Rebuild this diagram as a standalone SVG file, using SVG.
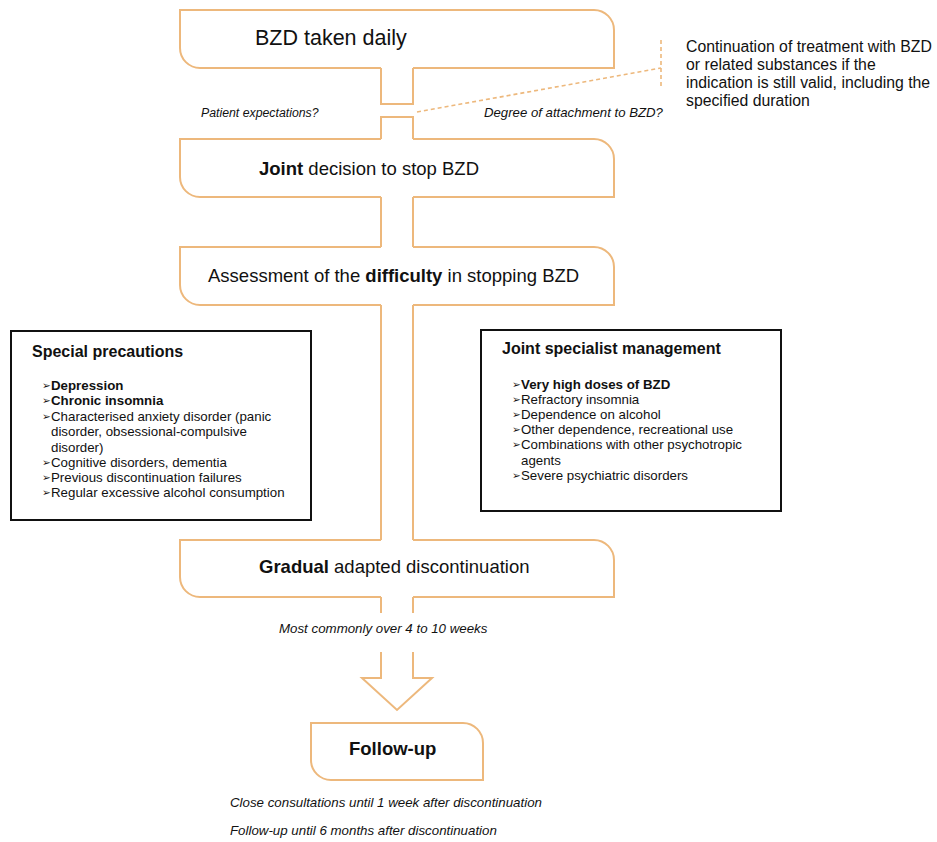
<svg xmlns="http://www.w3.org/2000/svg" width="937" height="842" viewBox="0 0 937 842">
<style>
.box{fill:#fff;stroke:#EDB87C;stroke-width:2;stroke-linejoin:miter}
.stem{fill:none;stroke:#EDB87C;stroke-width:2}
.dash{fill:none;stroke:#EDB87C;stroke-width:1.6;stroke-dasharray:4 3}
.t{font-family:"Liberation Sans",Arial,sans-serif;fill:#111}
.main{font-size:18.5px}
.it{font-size:13.3px;font-style:italic}
.lst{font-size:13.3px}
.ttl{font-size:16px;font-weight:bold}
.bul{font-family:"DejaVu Sans",sans-serif;font-size:10.5px;fill:#111}
.panel{fill:#fff;stroke:#111;stroke-width:2}
.b{font-weight:bold}
</style>
<rect width="937" height="842" fill="#fff"/>

<g id="connectors">
  <path class="stem" d="M381,68 V104 H413 V68"/>
  <path class="stem" d="M381,139 V117 H413 V139"/>
  <path class="stem" d="M381,197 V247 M413,197 V247"/>
  <path class="stem" d="M381,305 V540 M413,305 V540"/>
  <path class="stem" d="M381,597 V613 M413,597 V613"/>
  <path class="stem" d="M381,652 V678 H362 L397,710 L432,678 H413 V652"/>
  <path class="dash" d="M417,112 L661,68"/>
  <path class="dash" d="M661,40 V88"/>
</g>

<g id="node-bzd-daily">
  <path class="box" d="M413,68 H614 V30 A20,20 0 0 0 594,10 H180 V48 A20,20 0 0 0 200,68 H381"/>
  <text class="t" x="255" y="45" style="font-size:21.5px">BZD taken daily</text>
</g>

<g id="label-patient">
  <text class="t it" x="201" y="117" style="font-size:12.3px">Patient expectations?</text>
</g>
<g id="label-degree">
  <text class="t it" x="484" y="117" style="font-size:13.2px">Degree of attachment to BZD?</text>
</g>

<g id="node-continuation">
  <text class="t" style="font-size:15.8px">
    <tspan x="686" y="52">Continuation of treatment with BZD</tspan>
    <tspan x="686" y="70">or related substances if the</tspan>
    <tspan x="686" y="88">indication is still valid, including the</tspan>
    <tspan x="686" y="106">specified duration</tspan>
  </text>
</g>

<g id="node-joint-decision">
  <path class="box" d="M413,139 H594 A20,20 0 0 1 614,159 V197 H413 M381,197 H200 A20,20 0 0 1 180,177 V139 H381"/>
  <text class="t main" x="259" y="175"><tspan class="b">Joint</tspan> decision to stop BZD</text>
</g>

<g id="node-assessment">
  <path class="box" d="M413,247 H594 A20,20 0 0 1 614,267 V305 H413 M381,305 H200 A20,20 0 0 1 180,285 V247 H381"/>
  <text class="t main" x="208" y="282">Assessment of the <tspan class="b">difficulty</tspan> in stopping BZD</text>
</g>

<g id="node-special-precautions">
  <rect class="panel" x="11" y="331" width="300" height="189"/>
  <text class="t ttl" x="32" y="357">Special precautions</text>
  <g class="bul">
    <text x="42" y="389">➢</text>
    <text x="42" y="404">➢</text>
    <text x="42" y="420">➢</text>
    <text x="42" y="466">➢</text>
    <text x="42" y="481">➢</text>
    <text x="42" y="496">➢</text>
  </g>
  <text class="t lst">
    <tspan x="51" y="390" class="b">Depression</tspan>
    <tspan x="51" y="405" class="b">Chronic insomnia</tspan>
    <tspan x="51" y="421">Characterised anxiety disorder (panic</tspan>
    <tspan x="51" y="436">disorder, obsessional-compulsive</tspan>
    <tspan x="51" y="452">disorder)</tspan>
    <tspan x="51" y="467">Cognitive disorders, dementia</tspan>
    <tspan x="51" y="482">Previous discontinuation failures</tspan>
    <tspan x="51" y="497">Regular excessive alcohol consumption</tspan>
  </text>
</g>

<g id="node-joint-specialist">
  <rect class="panel" x="481" y="330" width="300" height="181"/>
  <text class="t ttl" x="502" y="354">Joint specialist management</text>
  <g class="bul">
    <text x="512" y="388">➢</text>
    <text x="512" y="403">➢</text>
    <text x="512" y="418">➢</text>
    <text x="512" y="433">➢</text>
    <text x="512" y="448">➢</text>
    <text x="512" y="479">➢</text>
  </g>
  <text class="t lst">
    <tspan x="521" y="389" class="b">Very high doses of BZD</tspan>
    <tspan x="521" y="404">Refractory insomnia</tspan>
    <tspan x="521" y="419">Dependence on alcohol</tspan>
    <tspan x="521" y="434">Other dependence, recreational use</tspan>
    <tspan x="521" y="449">Combinations with other psychotropic</tspan>
    <tspan x="521" y="465">agents</tspan>
    <tspan x="521" y="480">Severe psychiatric disorders</tspan>
  </text>
</g>

<g id="node-gradual">
  <path class="box" d="M413,540 H594 A20,20 0 0 1 614,560 V597 H413 M381,597 H200 A20,20 0 0 1 180,577 V540 H381"/>
  <text class="t main" x="259" y="573"><tspan class="b">Gradual</tspan> adapted discontinuation</text>
</g>

<g id="label-most-commonly">
  <text class="t it" x="279" y="633">Most commonly over 4 to 10 weeks</text>
</g>

<g id="node-follow-up">
  <path class="box" d="M311,723 H463 A20,20 0 0 1 483,743 V780 H331 A20,20 0 0 1 311,760 Z"/>
  <text class="t main b" x="349" y="755">Follow-up</text>
</g>

<g id="label-follow-notes">
  <text class="t it" x="230" y="807">Close consultations until 1 week after discontinuation</text>
  <text class="t it" x="230" y="835">Follow-up until 6 months after discontinuation</text>
</g>
</svg>
